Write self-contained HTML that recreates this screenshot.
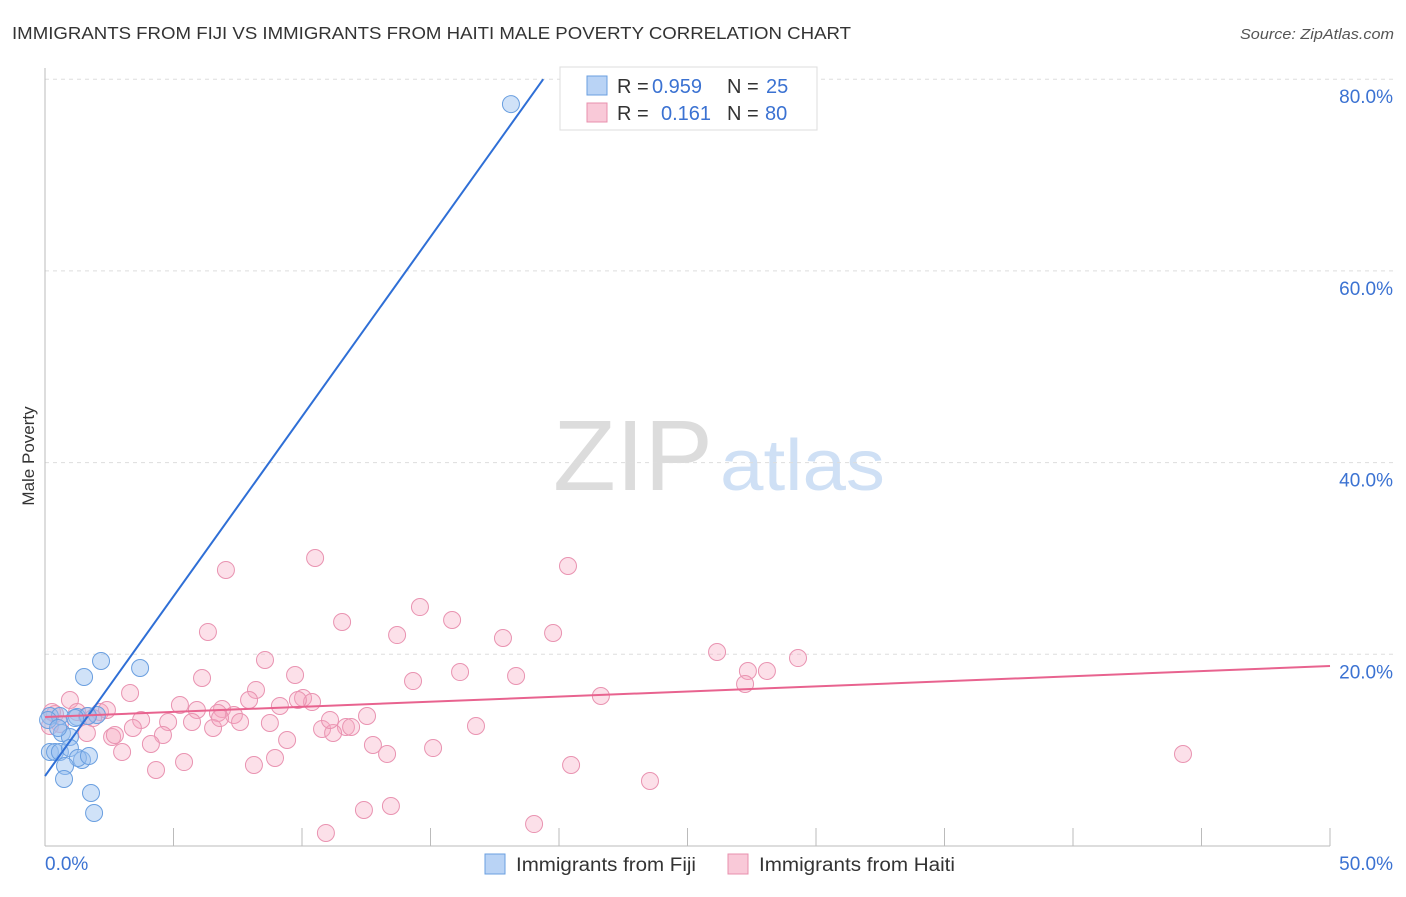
<!DOCTYPE html>
<html><head><meta charset="utf-8"><style>
body{margin:0;background:#fff;font-family:"Liberation Sans",sans-serif}
svg text{font-family:"Liberation Sans",sans-serif}
</style></head><body>
<svg id="chart" width="1406" height="892">
<text x="12" y="39" font-size="17.5" fill="#333" textLength="839" lengthAdjust="spacingAndGlyphs">IMMIGRANTS FROM FIJI VS IMMIGRANTS FROM HAITI MALE POVERTY CORRELATION CHART</text>
<text x="1240" y="39" font-size="15" fill="#555" font-style="italic" textLength="154" lengthAdjust="spacingAndGlyphs">Source: ZipAtlas.com</text>
<text x="34" y="456" font-size="17" fill="#333" transform="rotate(-90 34 456)" text-anchor="middle">Male Poverty</text>
<g><text x="553" y="490" font-size="100" fill="#dcdcdc" textLength="160" lengthAdjust="spacingAndGlyphs" font-family="Liberation Serif">ZIP</text><text x="720" y="490" font-size="72" fill="#cfe0f5" textLength="165" lengthAdjust="spacingAndGlyphs">atlas</text></g>
<g id="grid"></g><g id="axes"></g><g id="pts"></g><g id="lines"></g>
<g>
<rect x="560" y="67" width="257" height="63" fill="#fff" stroke="#ddd"/>
<rect x="587" y="76" width="20" height="19" fill="#b9d3f5" stroke="#6a9fe0"/>
<rect x="587" y="103" width="20" height="19" fill="#f9c9d8" stroke="#e890ae"/>
<text x="617" y="93" font-size="20" fill="#333">R = <tspan x="652" fill="#3b72d2">0.959</tspan><tspan x="727">N = </tspan><tspan x="766" fill="#3b72d2">25</tspan></text>
<text x="617" y="120" font-size="20" fill="#333">R = <tspan x="661" fill="#3b72d2">0.161</tspan><tspan x="727">N = </tspan><tspan x="765" fill="#3b72d2">80</tspan></text>
</g>
<g>
<rect x="485" y="854" width="20" height="20" fill="#b9d3f5" stroke="#6a9fe0"/>
<text x="516" y="871" font-size="19" fill="#333" textLength="180" lengthAdjust="spacingAndGlyphs">Immigrants from Fiji</text>
<rect x="728" y="854" width="20" height="20" fill="#f9c9d8" stroke="#e890ae"/>
<text x="759" y="871" font-size="19" fill="#333" textLength="196" lengthAdjust="spacingAndGlyphs">Immigrants from Haiti</text>
</g>
</svg>
<script>
const fijiX=[18.13,2.18,3.70,1.52,0.19,0.58,2.02,1.25,1.67,1.17,0.66,0.97,0.19,0.39,0.58,0.97,1.44,1.28,1.71,0.78,0.74,1.79,1.91,0.12,0.51];
const fijiY=[77.4,19.3,18.57,17.63,13.56,13.56,13.67,13.46,13.56,13.35,11.79,11.37,9.81,9.81,9.81,10.22,8.97,9.18,9.39,8.35,6.99,5.53,3.44,13.15,12.31];
const haitiX=[10.51,20.35,7.04,14.59,11.56,15.84,6.34,13.70,17.82,19.77,8.56,26.15,29.30,28.09,27.35,16.15,9.73,18.33,6.11,14.32,27.24,3.31,21.63,8.21,0.97,10.04,10.39,9.84,5.25,6.89,7.94,5.91,2.14,2.41,1.25,1.63,0.39,1.87,6.73,7.35,12.53,9.14,3.74,5.72,7.59,4.79,8.75,3.42,10.78,6.54,11.71,11.91,11.21,16.77,4.59,1.63,2.61,9.42,12.76,4.12,15.10,3.00,13.31,8.95,5.41,8.13,4.32,20.47,23.54,44.28,12.41,13.46,10.93,19.03,0.19,0.58,2.72,6.81,11.09,0.27];
const haitiY=[30.05,29.21,28.80,24.93,23.37,23.58,22.33,22.01,21.70,22.22,19.41,20.24,19.61,18.26,18.26,18.15,17.84,17.74,17.53,17.21,16.90,15.96,15.65,16.28,15.23,15.44,15.02,15.23,14.71,14.29,15.23,14.19,13.98,14.19,13.98,13.56,13.77,13.35,13.88,13.67,13.56,14.61,13.15,12.94,12.94,12.94,12.83,12.31,12.21,12.31,12.42,12.42,11.79,12.52,11.58,11.79,11.37,11.06,10.54,10.64,10.22,9.81,9.60,9.18,8.76,8.45,7.93,8.45,6.78,9.60,3.76,4.17,1.36,2.29,12.52,12.73,11.58,13.35,13.15,13.98];
const yTicks=[20,40,60,80];
const xTickLabels=["0.0%","50.0%"];
const fijiFit=[7.3,3.75];   // intercept, slope
const haitiFit=[13.46,0.1064];
const NS="http://www.w3.org/2000/svg";
const X0=45,X1=1330,Y0=846,YS=9.585;
const sx=v=>X0+(v/50)*(X1-X0);
const sy=v=>Y0-v*YS;
function mk(tag,attrs,parent){const e=document.createElementNS(NS,tag);for(const k in attrs)e.setAttribute(k,attrs[k]);document.getElementById(parent).appendChild(e);return e;}
yTicks.forEach(t=>{
 const l=mk('line',{x1:45,x2:1393,y1:sy(t),y2:sy(t),stroke:'#ddd','stroke-dasharray':'4,4'},'grid');
 
 
 const tx=mk('text',{x:1393,y:sy(t)+24,'font-size':19,fill:'#3b72d2','text-anchor':'end'},'grid');
 tx.textContent=t.toFixed(1)+'%';
 
 
});
mk('line',{x1:45,x2:45,y1:68,y2:846,stroke:'#bbb'},'axes');
mk('line',{x1:45,x2:1330,y1:846,y2:846,stroke:'#bbb'},'axes');
for(let i=0;i<=10;i++){const x=sx(i*5);mk('line',{x1:x,x2:x,y1:828,y2:846,stroke:'#bbb'},'axes');}
const xl0=mk('text',{x:45,y:870,'font-size':19,fill:'#3b72d2'},'axes');xl0.textContent=xTickLabels[0];


const xl1=mk('text',{x:1393,y:870,'font-size':19,fill:'#3b72d2','text-anchor':'end'},'axes');xl1.textContent=xTickLabels[1];


haitiX.forEach((v,i)=>{const c=mk('circle',{cx:sx(v),cy:sy(haitiY[i]),r:8.5,fill:'rgba(245,165,192,0.35)',stroke:'#e993b1','stroke-width':1},'pts');
 
 });
fijiX.forEach((v,i)=>{const c=mk('circle',{cx:sx(v),cy:sy(fijiY[i]),r:8.5,fill:'rgba(150,190,240,0.45)',stroke:'#6a9fe0','stroke-width':1},'pts');
 
 });
const fx1=(80-fijiFit[0])/fijiFit[1];
const bl=mk('line',{x1:sx(0),y1:sy(fijiFit[0]),x2:sx(fx1),y2:sy(80),stroke:'#2f6fd6','stroke-width':2},'lines');


const pl=mk('line',{x1:sx(0),y1:sy(haitiFit[0]),x2:sx(50),y2:sy(haitiFit[0]+haitiFit[1]*50),stroke:'#e8638f','stroke-width':2},'lines');


</script>
</body></html>
